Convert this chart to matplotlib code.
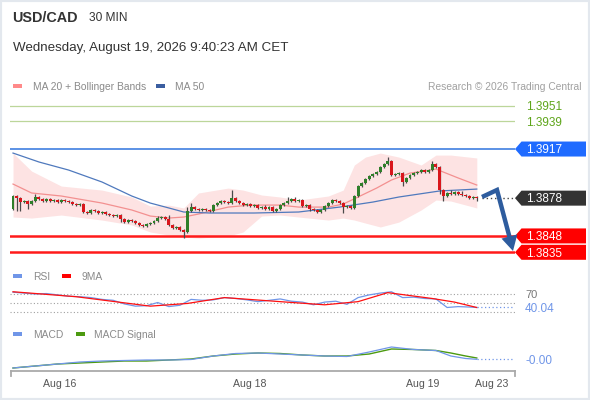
import matplotlib
matplotlib.use("Agg")
import matplotlib.pyplot as plt
import numpy as np
from matplotlib.patches import Polygon, Rectangle

plt.rcParams["font.family"] = ["Liberation Sans", "DejaVu Sans"]

W, H = 590, 400  # output size in pixels (dpi 100)

# --- 30 min candles (close of each bar, open = previous close)
first_open = 1.38694
closes = [
    1.38797, 1.38781, 1.38749, 1.38757, 1.38733, 1.38757, 1.38789, 1.38773, 1.38757, 1.38773,
    1.38757, 1.38765, 1.38749, 1.38765, 1.38757, 1.38749, 1.38733, 1.38725, 1.38733, 1.38670,
    1.38662, 1.38686, 1.38678, 1.38662, 1.38670, 1.38654, 1.38646, 1.38638, 1.38646, 1.38614,
    1.38590, 1.38606, 1.38598, 1.38582, 1.38567, 1.38559, 1.38574, 1.38582, 1.38598, 1.38622,
    1.38630, 1.38614, 1.38567, 1.38543, 1.38551, 1.38527, 1.38511, 1.38678, 1.38709, 1.38694,
    1.38686, 1.38694, 1.38686, 1.38678, 1.38725, 1.38741, 1.38757, 1.38749, 1.38741, 1.38781,
    1.38757, 1.38741, 1.38725, 1.38733, 1.38717, 1.38725, 1.38702, 1.38709, 1.38694, 1.38709,
    1.38678, 1.38694, 1.38725, 1.38741, 1.38757, 1.38773, 1.38757, 1.38765, 1.38717, 1.38725,
    1.38694, 1.38686, 1.38670, 1.38686, 1.38717, 1.38741, 1.38765, 1.38757, 1.38741, 1.38709,
    1.38717, 1.38702, 1.38797, 1.38876, 1.38900, 1.38932, 1.38956, 1.38971, 1.38987, 1.39027,
    1.39051, 1.39075, 1.38964, 1.38971, 1.38979, 1.38908, 1.38940, 1.38964, 1.38979, 1.38987,
    1.39003, 1.38987, 1.39003, 1.39051, 1.39027, 1.38844, 1.38797, 1.38821, 1.38813, 1.38829,
    1.38813, 1.38805, 1.38797, 1.38781, 1.38789, 1.38781,
]
# wick beyond the body, in pips
upper_wick_pips = [
    1, 1, 1, 1, 1, 1, 2, 1, 1, 1,
    1, 1, 1, 1, 1, 1, 1, 1, 1, 1,
    1, 1, 1, 1, 1, 1, 1, 1, 1, 1,
    1, 1, 1, 1, 1, 1, 1, 1, 1, 2,
    1, 1, 3, 1, 1, 1, 1, 3, 3, 1,
    1, 1, 1, 1, 1, 1, 1, 1, 1, 6,
    1, 1, 1, 1, 1, 1, 1, 1, 2, 1,
    1, 1, 1, 1, 3, 1, 2, 1, 1, 1,
    1, 1, 1, 1, 1, 1, 1, 1, 1, 1,
    1, 1, 1, 1, 1, 1, 1, 1, 1, 1,
    1, 3, 1, 1, 1, 1, 1, 1, 1, 1,
    1, 1, 1, 2, 1, 1, 1, 1, 2, 1,
    1, 2, 1, 1, 1, 1,
]
lower_wick_pips = [
    1, 10, 7, 1, 4, 1, 1, 1, 1, 1,
    1, 1, 1, 1, 1, 1, 1, 1, 1, 1,
    1, 1, 1, 1, 1, 1, 1, 1, 1, 2,
    1, 1, 1, 1, 1, 1, 1, 1, 1, 1,
    1, 1, 1, 1, 1, 1, 5, 1, 1, 1,
    1, 1, 1, 1, 1, 1, 1, 1, 1, 1,
    1, 1, 1, 1, 1, 1, 1, 1, 1, 1,
    1, 1, 1, 1, 1, 1, 1, 1, 1, 1,
    2, 1, 1, 1, 1, 1, 1, 1, 1, 5,
    1, 1, 1, 1, 1, 1, 1, 1, 1, 1,
    1, 1, 1, 1, 1, 3, 1, 1, 1, 1,
    1, 1, 1, 1, 1, 3, 4, 1, 1, 1,
    1, 1, 1, 1, 1, 2,
]

# --- overlays (sampled at candle index)
band_idx = [0, 5, 13, 24, 32, 37, 42, 46, 50, 58, 62, 67, 72, 77, 85, 89, 92, 95, 99, 104, 110, 114, 118, 125]
band_upper = [1.39138, 1.38995, 1.38876, 1.38844, 1.38789, 1.38717, 1.38725, 1.38702, 1.38821, 1.38860,
              1.38844, 1.38805, 1.38789, 1.38765, 1.38797, 1.38844, 1.39043, 1.39106, 1.39138, 1.39106,
              1.39043, 1.39122, 1.39122, 1.39099]
band_lower = [1.38630, 1.38622, 1.38646, 1.38606, 1.38567, 1.38511, 1.38487, 1.38471, 1.38463, 1.38479,
              1.38511, 1.38638, 1.38646, 1.38630, 1.38606, 1.38622, 1.38606, 1.38582, 1.38551, 1.38590,
              1.38686, 1.38765, 1.38757, 1.38702]
ma20_idx = [0, 5, 13, 24, 32, 37, 42, 46, 50, 58, 64, 72, 77, 85, 89, 93, 98, 102, 107, 111, 114, 116, 120, 125]
ma20 = [1.38892, 1.38821, 1.38797, 1.38741, 1.38686, 1.38638, 1.38622, 1.38630, 1.38654, 1.38709,
        1.38725, 1.38725, 1.38709, 1.38709, 1.38733, 1.38789, 1.38860, 1.38924, 1.38979, 1.38995,
        1.39011, 1.38987, 1.38940, 1.38884]
ma50_idx = [0, 7, 15, 24, 32, 37, 42, 46, 53, 65, 77, 88, 97, 104, 115, 125]
ma50 = [1.39138, 1.39067, 1.39003, 1.38908, 1.38797, 1.38741, 1.38702, 1.38670, 1.38662, 1.38662,
        1.38670, 1.38709, 1.38749, 1.38789, 1.38837, 1.38852]

resistances = [1.3951, 1.3939]
pivot = 1.3917
supports = [1.3848, 1.3835]
last_price = 1.3878

# --- RSI / MACD
rsi_idx = [0, 3, 6, 9, 12, 15, 18, 21, 24, 27, 30, 33, 36, 39, 42, 45, 48, 51, 54, 57, 60, 63,
           66, 69, 72, 75, 78, 81, 84, 87, 90, 93, 96, 99, 102, 105, 108, 111, 114, 117, 120, 123, 125]
rsi = [74, 72, 70, 71, 68, 65, 64, 62, 58, 56, 48, 43, 44, 51, 42, 45, 58, 56, 57, 62, 60, 57,
       53, 56, 59, 54, 52, 46, 52, 54, 47, 62, 68, 72, 75, 62, 63, 60, 59, 40, 42, 41, 40.04]
rsi_ma_idx = [0, 17, 37, 47, 57, 72, 84, 93, 101, 113, 119, 125]
rsi_ma = [75, 64, 43, 49, 62, 53, 46, 53, 73, 60, 52, 40]
rsi_levels = [70, 50, 30]

macd_idx = [0, 6, 12, 18, 24, 30, 36, 42, 48, 54, 60, 66, 72, 78, 84, 90, 96, 102, 108, 114, 118, 122, 125]
macd = [-0.0010, -0.0008, -0.0006, -0.0004, -0.0003, -0.00025, -0.0002, -0.0002, -0.00015, 0.0002,
        0.00045, 0.0005, 0.0004, 0.0003, 0.0002, 0.00015, 0.0006, 0.0011, 0.00085, 0.00075,
        0.0002, -0.00005, -0.00013]
macd_signal = [-0.0010, -0.0008, -0.0006, -0.0005, -0.0004, -0.0003, -0.0003, -0.0002, -0.0001, 0.0002,
               0.0004, 0.0005, 0.00045, 0.0003, 0.0002, 0.0002, 0.0004, 0.0009, 0.00085, 0.00075,
               0.0005, 0.0002, 0.0]

date_ticks = [12.7, 63.9, 110.5, 129.1]
date_labels = ["Aug 16", "Aug 18", "Aug 19", "Aug 23"]

GREEN = "#2f7f2a"
RED = "#d9161c"
RSI_BLUE = "#7096e8"
XLIM = (-0.81, 135.3)
TXT_DY = 1.2  # va="center" sits a bit high for digits


def px_axes(fig, left, top, right, bottom):
    """Axes placed by pixel box (top-left origin)."""
    ax = fig.add_axes([left / W, 1 - bottom / H, (right - left) / W, (bottom - top) / H])
    ax.set_axis_off()
    ax.patch.set_alpha(0)
    return ax


def to_px(ax, value):
    """Pixel row (from the top) of a data value on ax."""
    return H - ax.transData.transform((0, value))[1]


fig = plt.figure(figsize=(W / 100, H / 100), dpi=100)
fig.patch.set_facecolor("white")

# ---------------- price panel
ax = px_axes(fig, 10, 95, 515, 262)
ax.set_xlim(*XLIM)
ax.set_ylim(1.38273, 1.39599)

ax.fill_between(band_idx, band_lower, band_upper, color="#fde3e3", lw=0, zorder=1)
ax.plot(ma20_idx, ma20, color="#f39090", lw=0.9, zorder=2)
ax.plot(ma50_idx, ma50, color="#4f79bd", lw=0.9, zorder=2)

for r in resistances:
    ax.axhline(r, color="#bcd69a", lw=0.9, zorder=1)
ax.axhline(pivot, color="#3f7fe0", lw=1.2, zorder=1)
for s in supports:
    ax.axhline(s, color="#ff1a1a", lw=1.8, zorder=3)

n = len(closes)
assert len(upper_wick_pips) == n and len(lower_wick_pips) == n
xs = np.arange(n)
c = np.array(closes)
o = np.array([first_open] + closes[:-1])
top = np.maximum(o, c)
bot = np.minimum(o, c)
highs = top + np.array(upper_wick_pips) * 0.0001
lows = bot - np.array(lower_wick_pips) * 0.0001
colors = [GREEN if cc >= oo else RED for oo, cc in zip(o, c)]
ax.vlines(xs, lows, highs, color="#4a4a4a", lw=0.9, zorder=4)
ax.bar(xs, np.maximum(top - bot, 0.00003), bottom=bot, width=0.8, color=colors, lw=0, zorder=5)

ax.plot([n + 0.5, XLIM[1]], [last_price, last_price], color="#444444", lw=1, ls=(0, (1, 2)), zorder=3)

# ---------------- RSI panel
ax_rsi = px_axes(fig, 10, 285, 515, 325)
ax_rsi.set_xlim(*XLIM)
ax_rsi.set_ylim(1.1, 90)
for lv in rsi_levels:
    ax_rsi.axhline(lv, color="#a0a0a0", lw=0.8, ls=(0, (1, 2)))
ax_rsi.plot(rsi_idx, rsi, color=RSI_BLUE, lw=0.9)
ax_rsi.plot(rsi_ma_idx, rsi_ma, color="#ff1010", lw=0.9)
ax_rsi.plot([rsi_idx[-1], XLIM[1]], [rsi[-1], rsi[-1]], color=RSI_BLUE, lw=0.9, ls=(0, (1, 2)))

# ---------------- MACD panel
ax_macd = px_axes(fig, 10, 340, 515, 370)
ax_macd.set_xlim(*XLIM)
ax_macd.set_ylim(-0.0012, 0.0018)
ax_macd.plot(macd_idx, macd_signal, color="#4c9a10", lw=1.0)
ax_macd.plot(macd_idx, macd, color=RSI_BLUE, lw=0.9)
ax_macd.plot([macd_idx[-1], XLIM[1]], [macd[-1], macd[-1]], color=RSI_BLUE, lw=0.9, ls=(0, (1, 2)))

# ---------------- overlay in pixel coordinates: text, tags, legends
ov = fig.add_axes([0, 0, 1, 1])
ov.set_xlim(0, W)
ov.set_ylim(H, 0)
ov.set_axis_off()
ov.patch.set_alpha(0)


def tag(y, text, face):
    pts = [(515, y), (521.5, y - 7.5), (586, y - 7.5), (586, y + 7.5), (521.5, y + 7.5)]
    ov.add_patch(Polygon(pts, closed=True, fc=face, ec="none", zorder=5))
    ov.text(526, y + TXT_DY, text, color="white", fontsize=8.5, va="center", ha="left", zorder=6)


def legend_key(x, y, color, label, text_x):
    ov.add_patch(Rectangle((x, y - 2), 9, 4, fc=color, ec="none"))
    ov.text(text_x, y + TXT_DY, label, color="#8a8a8a", fontsize=7.4, va="center", ha="left")


for r in resistances:
    ov.text(526, to_px(ax, r) + TXT_DY, f"{r:.4f}", color="#5ea51a", fontsize=8.5, va="center", ha="left")
tag(to_px(ax, pivot), f"{pivot:.4f}", "#1f6bff")
tag(to_px(ax, last_price), f"{last_price:.4f}", "#333333")
for s in supports:
    tag(to_px(ax, s), f"{s:.4f}", "#ff0000")

# forecast arrow
ov.plot([482, 497, 509.5], [197, 190, 237], color="#2e5c9e", lw=3.2, solid_capstyle="butt",
        solid_joinstyle="miter", zorder=7)
ov.add_patch(Polygon([(501.5, 238.6), (517.3, 234.4), (513, 251)], closed=True,
                     fc="#2e5c9e", ec="none", zorder=7))

# header
ov.text(12, 18, "USD/CAD", fontsize=10.4, fontweight="bold", color="#333333", va="center")
ov.text(89, 18, "30 MIN", fontsize=8.6, color="#333333", va="center")
ov.text(13, 48, "Wednesday, August 19, 2026 9:40:23 AM CET", fontsize=9.6, color="#333333", va="center")
legend_key(13, 86, "#ff8a8a", "MA 20 + Bollinger Bands", 33)
legend_key(156, 86, "#3b5ea0", "MA 50", 175)
ov.text(581, 86 + TXT_DY, "Research \u00a9 2026 Trading Central", fontsize=7.4, color="#a0a0a0",
        va="center", ha="right")

# indicator legends and right labels
legend_key(13, 276, RSI_BLUE, "RSI", 33)
legend_key(62, 276, "#ff0000", "9MA", 82)
ov.text(525, to_px(ax_rsi, 70) + TXT_DY, "70", fontsize=8, color="#777777", va="center")
ov.text(525, to_px(ax_rsi, rsi[-1]) + TXT_DY, f"{rsi[-1]:.2f}", fontsize=8.5, color=RSI_BLUE, va="center")
legend_key(13, 334, RSI_BLUE, "MACD", 33)
legend_key(76, 334, "#4c9a10", "MACD Signal", 94)
ov.text(525, to_px(ax_macd, macd[-1]) + TXT_DY, f"{macd[-1]:.2f}", fontsize=8.5, color=RSI_BLUE, va="center")

# time axis
ov.plot([11, 515], [371, 371], color="#aaaaaa", lw=1.3)
ov.plot([11, 11], [371, 376], color="#aaaaaa", lw=1.3)
ov.plot([515, 515], [371, 376], color="#aaaaaa", lw=1.3)
for t, lab in zip(date_ticks, date_labels):
    xpx = fig.transFigure.inverted().transform(ax.transData.transform((t, 0)))[0] * W
    ov.text(xpx, 384, lab, fontsize=7.6, color="#555555", ha="center", va="center")

fig.add_artist(Rectangle((0, 0), 1, 1, transform=fig.transFigure, fill=False, ec="#e3e8ee", lw=3))

fig.savefig("out.png", dpi=100)
